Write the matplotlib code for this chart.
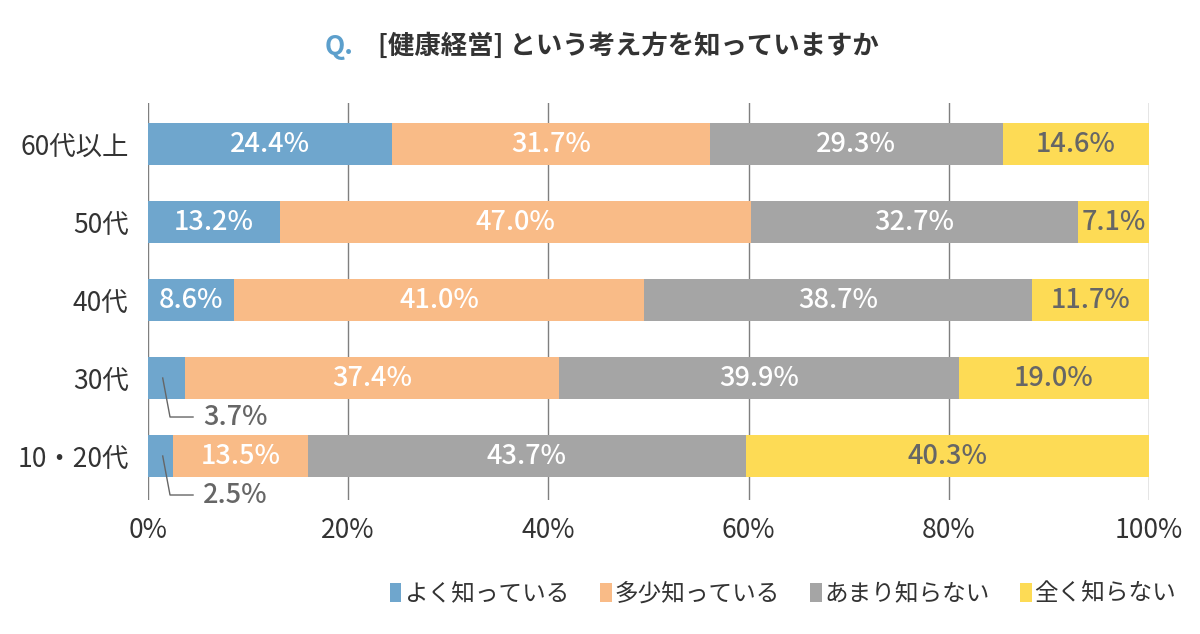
import matplotlib
matplotlib.use("Agg")
import matplotlib.pyplot as plt
from matplotlib.patches import Patch

plt.rcParams['font.family'] = ['Noto Sans CJK JP', 'DejaVu Sans']

# Data
categories = ['10・20代', '30代', '40代', '50代', '60代以上']
series_names = ['よく知っている', '多少知っている', 'あまり知らない', '全く知らない']
know_well = [2.5, 3.7, 8.6, 13.2, 24.4]
know_some = [13.5, 37.4, 41.0, 47.0, 31.7]
know_little = [43.7, 39.9, 38.7, 32.7, 29.3]
know_none = [40.3, 19.0, 11.7, 7.1, 14.6]
x_ticks = [0, 20, 40, 60, 80, 100]

colors = ['#6fa6cd', '#f9bb87', '#a5a5a5', '#fddb55']
text_colors = ['white', 'white', 'white', '#666666']
series = [know_well, know_some, know_little, know_none]

fig = plt.figure(figsize=(12, 6.34), dpi=100)
ax = fig.add_axes([148 / 1200, 1 - 500 / 634, 1001 / 1200, 397 / 634])

ypos = list(range(len(categories)))
left = [0.0] * len(categories)
for vals, col, tcol in zip(series, colors, text_colors):
    ax.barh(ypos, vals, left=left, height=0.54, color=col, zorder=3)
    for y, v, l in zip(ypos, vals, left):
        if v >= 5:
            ax.text(l + v / 2, y, f'{v:.1f}%', ha='center', va='center',
                    color=tcol, fontsize=19.5, fontweight='medium', zorder=4)
        else:
            # leader line for small segments
            ax.plot([l + 1.47, l + 2.2, l + 4.5], [y, y - 0.5, y - 0.5],
                    color='#666666', lw=1, zorder=4, clip_on=False)
            ax.text(l + 5.5, y - 0.5, f'{v:.1f}%', ha='left', va='center',
                    color='#666666', fontsize=19.5, fontweight='medium', zorder=4)
    left = [a + b for a, b in zip(left, vals)]

ax.set_xlim(0, 100)
ax.set_ylim(-0.564, 4.526)
ax.set_xticks(x_ticks)
ax.set_xticklabels([f'{t}%' for t in x_ticks])
ax.set_yticks(ypos)
ax.set_yticklabels(categories)
ax.tick_params(axis='both', length=0, labelsize=19, colors='#333333')
ax.tick_params(axis='x', pad=12)
ax.tick_params(axis='y', pad=14)
ax.grid(axis='x', color='#7f7f7f', lw=1, zorder=0)
for s in ax.spines.values():
    s.set_visible(False)

# Title
fig.text(325 / 1200, 1 - 46 / 634, 'Q.', color='#5c9fcc', fontsize=19,
         fontweight='bold', va='center', ha='left')
fig.text(378 / 1200, 1 - 46 / 634, '[健康経営] という考え方を知っていますか',
         color='#333333', fontsize=19, fontweight='bold', va='center', ha='left')

handles = [Patch(facecolor=c, edgecolor='none') for c in colors]
fig.legend(handles, series_names, loc='center', bbox_to_anchor=(783 / 1200, 1 - 594 / 634),
           ncol=4, frameon=False, fontsize=17, handlelength=0.5, handleheight=0.9,
           handletextpad=0.1, columnspacing=1.3, labelcolor='#333333')

fig.savefig('out.png', dpi=100)
